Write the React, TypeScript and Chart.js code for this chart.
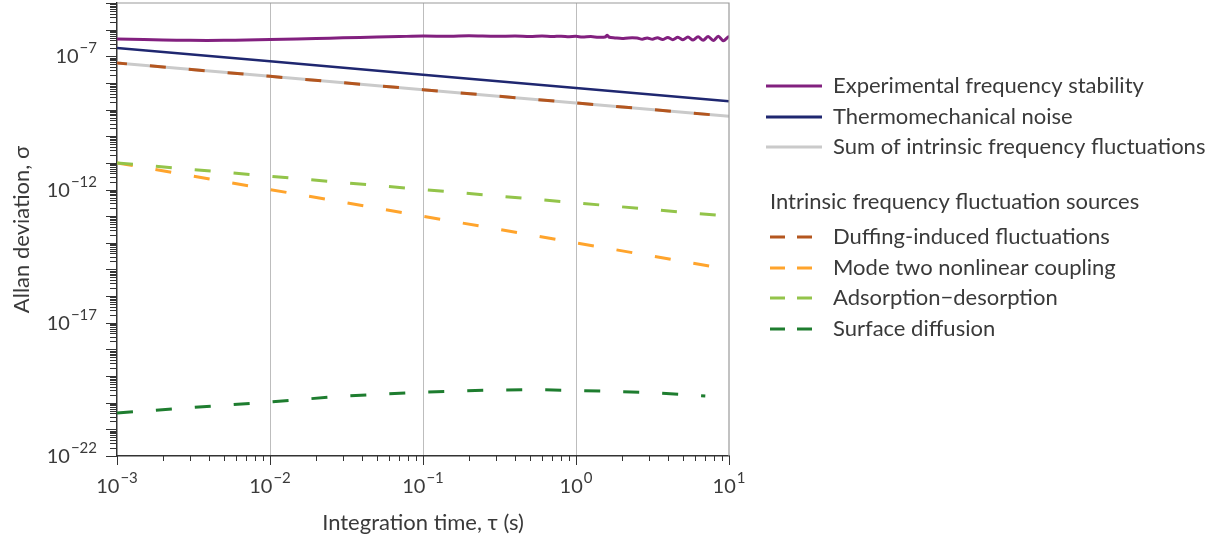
import React, { useEffect, useRef } from 'react';
import { Chart, registerables } from 'chart.js';

Chart.register(...registerables);

// ---------- data ----------
const xDecades = [-3, -2, -1, 0, 1];
const yDecades = [-22, -21, -20, -19, -18, -17, -16, -15, -14, -13, -12, -11, -10, -9, -8, -7, -6, -5];
const yLabelDecades = [-22, -17, -12, -7];
const minorMultipliers = [1, 2, 3, 4, 5, 6, 7, 8, 9];

const expTau = [0.001, 0.0015, 0.002, 0.003, 0.005, 0.007, 0.01, 0.015, 0.02, 0.03, 0.05, 0.07, 0.1, 0.15, 0.2, 0.3, 0.4, 0.5, 0.6, 0.7, 0.8, 0.9, 1.0, 1.1, 1.25, 1.4, 1.55, 1.6, 1.65, 1.8, 2.0, 2.2, 2.51, 2.71, 2.92, 3.16, 3.41, 3.68, 3.98, 4.29, 4.63, 5.0, 5.39, 5.82, 6.28, 6.78, 7.31, 7.89, 8.51, 9.18, 9.9, 10];
const expSigma = [4.43e-7, 4.26e-7, 4.07e-7, 3.97e-7, 3.97e-7, 4.07e-7, 4.26e-7, 4.43e-7, 4.64e-7, 4.93e-7, 5.28e-7, 5.51e-7, 5.75e-7, 5.65e-7, 5.85e-7, 5.6e-7, 5.8e-7, 5.55e-7, 5.75e-7, 5.51e-7, 5.7e-7, 5.46e-7, 5.6e-7, 5.28e-7, 5.5e-7, 5.2e-7, 5.3e-7, 6.1e-7, 5.2e-7, 4.9e-7, 4.64e-7, 4.9e-7, 4.85e-7, 4.4e-7, 4.9e-7, 4.35e-7, 5.01e-7, 4.26e-7, 5.1e-7, 4.22e-7, 5.15e-7, 4.14e-7, 5.28e-7, 4.07e-7, 5.37e-7, 4.0e-7, 5.51e-7, 3.9e-7, 5.6e-7, 3.83e-7, 5.37e-7, 4.84e-7];

const modelTau = [0.001, 0.01, 0.1, 1, 10];
const thermoSigma = [2.04e-7, 6.46e-8, 2.04e-8, 6.46e-9, 2.04e-9];
const sumSigma = [5.6e-8, 1.77e-8, 5.6e-9, 1.77e-9, 5.6e-10];
const duffingSigma = [5.6e-8, 1.77e-8, 5.6e-9, 1.77e-9, 5.6e-10];
const modeTwoSigma = [1e-11, 1e-12, 1e-13, 1e-14, 1e-15];
const adsorptionSigma = [1e-11, 3.16e-12, 1e-12, 3.16e-13, 1e-13];

const surfaceTau = [0.001, 0.003, 0.01, 0.03, 0.1, 0.3, 0.5, 1, 3, 7];
const surfaceSigma = [4.1e-21, 6.5e-21, 1.06e-20, 1.78e-20, 2.5e-20, 3.0e-20, 3.1e-20, 2.9e-20, 2.4e-20, 1.8e-20];

const legendHeader = 'Intrinsic frequency fluctuation sources';

// ---------- helpers ----------
const FONT = '"Lato", "DejaVu Sans", sans-serif';
const TEXT = '#3a3a3a';
const isDecade = (v: number) => {
  const l = Math.log10(v);
  return Math.abs(l - Math.round(l)) < 1e-6;
};
const expText = (e: number) => (e < 0 ? '−' + String(-e) : String(e));
const buildTicks = (decades: number[], max: number) => {
  const out: number[] = [];
  decades.forEach((d) => {
    minorMultipliers.forEach((m) => {
      const v = m * Math.pow(10, d);
      if (v <= max * 1.0000001) out.push(v);
    });
  });
  return out;
};
const pts = (xs: number[], ys: number[]) => xs.map((x, i) => ({ x, y: ys[i] }));

// tick marks (major longer than minor), frame and power-of-ten tick labels
const axisDecor = {
  id: 'axisDecor',
  afterDatasetsDraw(chart: any) {
    const { ctx, chartArea } = chart;
    const { left, right, top, bottom } = chartArea;
    ctx.save();
    ctx.strokeStyle = '#9a9a9a';
    ctx.lineWidth = 1.2;
    ctx.beginPath();
    ctx.moveTo(left, top);
    ctx.lineTo(right, top);
    ctx.lineTo(right, bottom);
    ctx.stroke();
    ctx.strokeStyle = '#333';
    ctx.lineWidth = 1;
    const xs = chart.scales.x;
    xs.ticks.forEach((t: any) => {
      const p = Math.round(xs.getPixelForValue(t.value)) + 0.5;
      ctx.beginPath();
      ctx.moveTo(p, bottom);
      ctx.lineTo(p, bottom + (isDecade(t.value) ? 9 : 5));
      ctx.stroke();
    });
    const ys = chart.scales.y;
    ys.ticks.forEach((t: any) => {
      const p = Math.round(ys.getPixelForValue(t.value)) + 0.5;
      ctx.beginPath();
      ctx.moveTo(left, p);
      ctx.lineTo(left - (isDecade(t.value) ? 11 : 7), p);
      ctx.stroke();
    });

    // tick labels 10^n with real superscripts
    const baseFont = `20px ${FONT}`;
    const supFont = `15px ${FONT}`;
    ctx.fillStyle = TEXT;
    ctx.textBaseline = 'alphabetic';
    ctx.textAlign = 'left';
    const measure = (e: number) => {
      ctx.font = baseFont;
      const w1 = ctx.measureText('10').width;
      ctx.font = supFont;
      const w2 = ctx.measureText(expText(e)).width;
      return { w1, w2, total: w1 + 1 + w2 };
    };
    const drawLabel = (e: number, x0: number, baseY: number) => {
      const m = measure(e);
      ctx.font = baseFont;
      ctx.fillText('10', x0, baseY);
      ctx.font = supFont;
      ctx.fillText(expText(e), x0 + m.w1 + 1, baseY - 10);
    };
    xDecades.forEach((e) => {
      const px = xs.getPixelForValue(Math.pow(10, e));
      const m = measure(e);
      drawLabel(e, px - m.total / 2, bottom + 37);
    });
    yLabelDecades.forEach((e) => {
      const py = ys.getPixelForValue(Math.pow(10, e));
      const m = measure(e);
      drawLabel(e, left - 20 - m.total, py + 7);
    });
    ctx.restore();
  },
};

const customLegend = {
  id: 'customLegend',
  afterDraw(chart: any) {
    const { ctx } = chart;
    const ds = chart.data.datasets;
    const byLabel = (l: string) => ds.find((d: any) => d.label === l);
    const rows: { label: string; y: number }[] = [
      { label: 'Experimental frequency stability', y: 86 },
      { label: 'Thermomechanical noise', y: 117 },
      { label: 'Sum of intrinsic frequency fluctuations', y: 147 },
      { label: 'Duffing-induced fluctuations', y: 237 },
      { label: 'Mode two nonlinear coupling', y: 268 },
      { label: 'Adsorption−desorption', y: 298 },
      { label: 'Surface diffusion', y: 329 },
    ];
    ctx.save();
    ctx.font = `22px ${FONT}`;
    ctx.textBaseline = 'middle';
    ctx.textAlign = 'left';
    ctx.fillStyle = TEXT;
    rows.forEach((r) => {
      const d = byLabel(r.label);
      if (!d) return;
      ctx.strokeStyle = d.borderColor;
      ctx.lineWidth = 3;
      ctx.beginPath();
      if (d.borderDash && d.borderDash.length) {
        ctx.setLineDash([15, 12]);
        ctx.moveTo(770, r.y);
        ctx.lineTo(812, r.y);
      } else {
        ctx.setLineDash([]);
        ctx.moveTo(766, r.y);
        ctx.lineTo(822, r.y);
      }
      ctx.stroke();
      ctx.setLineDash([]);
      ctx.fillText(r.label, 833, r.y);
    });
    ctx.fillText(legendHeader, 770, 202);
    ctx.restore();
  },
};

export default function App() {
  const ref = useRef<HTMLCanvasElement>(null);
  useEffect(() => {
    if (!ref.current) return;
    const xTicks = buildTicks(xDecades, 10);
    const yTicks = buildTicks(yDecades, 1e-5);
    const dashed = [16, 23];
    const chart = new Chart(ref.current, {
      type: 'line',
      data: {
        datasets: [
          { label: 'Experimental frequency stability', data: pts(expTau, expSigma), borderColor: '#82207f', borderWidth: 3, tension: 0.3, order: 0 },
          { label: 'Thermomechanical noise', data: pts(modelTau, thermoSigma), borderColor: '#1f2770', borderWidth: 2.5, order: 1 },
          { label: 'Duffing-induced fluctuations', data: pts(modelTau, duffingSigma), borderColor: '#b4561f', borderWidth: 3, borderDash: dashed, borderDashOffset: 6, order: 2 },
          { label: 'Adsorption−desorption', data: pts(modelTau, adsorptionSigma), borderColor: '#93c44a', borderWidth: 3, borderDash: dashed, order: 3 },
          { label: 'Mode two nonlinear coupling', data: pts(modelTau, modeTwoSigma), borderColor: '#ffa42c', borderWidth: 3, borderDash: dashed, order: 4 },
          { label: 'Surface diffusion', data: pts(surfaceTau, surfaceSigma), borderColor: '#1e7d2f', borderWidth: 3, borderDash: dashed, order: 5 },
          { label: 'Sum of intrinsic frequency fluctuations', data: pts(modelTau, sumSigma), borderColor: '#cacaca', borderWidth: 3, order: 6 },
        ] as any,
      },
      options: {
        animation: false,
        responsive: false,
        maintainAspectRatio: false,
        layout: { padding: { left: 0, top: 3, right: 491, bottom: 0 } },
        elements: { point: { radius: 0 }, line: { tension: 0 } },
        plugins: { legend: { display: false }, tooltip: { enabled: false } },
        scales: {
          x: {
            type: 'logarithmic',
            min: 1e-3,
            max: 10,
            afterBuildTicks: (s: any) => {
              s.ticks = xTicks.map((v) => ({ value: v, major: isDecade(v) }));
            },
            afterFit: (s: any) => {
              s.height = 87;
              s.paddingLeft = 0;
              s.paddingRight = 0;
            },
            grid: {
              drawTicks: false,
              lineWidth: 1,
              color: (c: any) => {
                const v = c.tick && c.tick.value;
                if (v && isDecade(v) && v > 1.5e-3 && v < 5) return '#bdbdbd';
                return 'rgba(0,0,0,0)';
              },
            },
            border: { display: true, color: '#333', width: 1.5 },
            ticks: { display: false, autoSkip: false, maxRotation: 0, minRotation: 0 },
            title: { display: true, text: 'Integration time, τ (s)', color: TEXT, font: { family: FONT, size: 22 }, padding: { top: 0, bottom: 7 } },
          },
          y: {
            type: 'logarithmic',
            min: 1e-22,
            max: 1e-5,
            afterBuildTicks: (s: any) => {
              s.ticks = yTicks.map((v) => ({ value: v, major: isDecade(v) }));
            },
            afterFit: (s: any) => {
              s.width = 117;
              s.paddingTop = 0;
              s.paddingBottom = 0;
            },
            grid: { drawTicks: false, drawOnChartArea: false },
            border: { display: true, color: '#333', width: 1.5 },
            ticks: { display: false, autoSkip: false },
            title: { display: true, text: 'Allan deviation, σ', color: TEXT, font: { family: FONT, size: 22 }, padding: { top: 9, bottom: 0 } },
          },
        },
      } as any,
      plugins: [axisDecor, customLegend],
    });
    return () => chart.destroy();
  }, []);
  return (
    <div style={{ position: 'absolute', left: 0, top: 0, width: 1220, height: 543, background: '#fff' }}>
      <canvas ref={ref} width={1220} height={543} style={{ display: 'block', width: 1220, height: 543 }} />
    </div>
  );
}
